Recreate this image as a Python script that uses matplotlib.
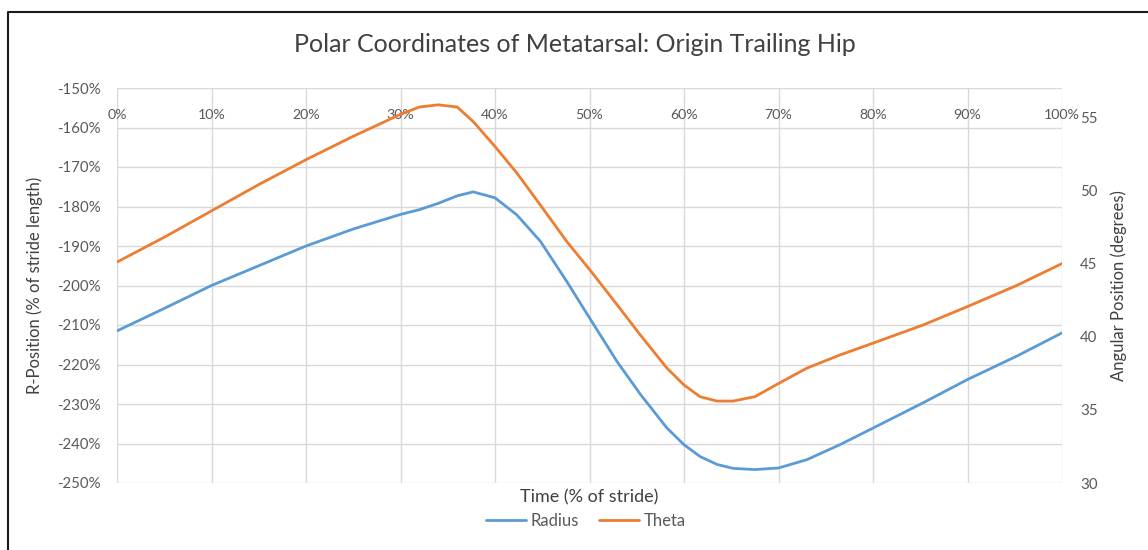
import matplotlib
matplotlib.use("Agg")
import matplotlib.pyplot as plt
from matplotlib.ticker import FuncFormatter
from matplotlib.lines import Line2D

plt.rcParams['font.family'] = ['Lato', 'DejaVu Sans']

# Stride time (% of stride)
time_pct = [0, 5, 10, 15, 20, 25, 30, 32, 34, 36, 37.7, 40, 42.3, 44.8, 47.6, 50,
            52.9, 55.4, 58.2, 60, 61.7, 63.5, 65.2, 67.5, 70, 73, 76.5, 80, 85.3,
            90, 95.2, 100]

# Radius of metatarsal from trailing hip (% of stride length)
radius = [-211.5, -205.8, -200.0, -195.0, -190.0, -185.7, -182.0, -180.8, -179.2,
          -177.3, -176.3, -177.8, -182.1, -188.8, -199.0, -208.2, -219.2, -227.6,
          -236.1, -240.3, -243.3, -245.3, -246.3, -246.6, -246.2, -244.1, -240.3,
          -236.1, -229.7, -223.8, -217.9, -212.0]

# Angular position of metatarsal (degrees)
theta = [45.1, 46.8, 48.6, 50.4, 52.1, 53.7, 55.2, 55.7, 55.85, 55.7, 54.7, 53.0,
         51.2, 49.0, 46.5, 44.6, 42.2, 40.1, 37.85, 36.7, 35.9, 35.6, 35.6, 35.9,
         36.8, 37.85, 38.75, 39.56, 40.8, 42.06, 43.5, 45.0]

x_ticks = [0, 10, 20, 30, 40, 50, 60, 70, 80, 90, 100]
r_ticks = [-150, -160, -170, -180, -190, -200, -210, -220, -230, -240, -250]
t_ticks = [30, 35, 40, 45, 50, 55]

BLUE = '#5B9BD5'
ORANGE = '#ED7D31'
GRID = '#d9d9d9'
TXT = '#595959'

W, H = 1148, 550
fig = plt.figure(figsize=(W / 100, H / 100), dpi=100)
ax = fig.add_axes([117 / W, 1 - 483 / H, (1062 - 117) / W, (483 - 88) / H])
ax2 = ax.twinx()

lr, = ax.plot(time_pct, radius, color=BLUE, lw=2.0, solid_capstyle='round', zorder=3)
lt, = ax2.plot(time_pct, theta, color=ORANGE, lw=2.0, solid_capstyle='round', zorder=3)

ax.set_xlim(0, 100)
ax.set_ylim(-250, -150)
ax2.set_ylim(30, 57)

ax.set_xticks(x_ticks)
ax.set_yticks(r_ticks)
ax2.set_yticks(t_ticks)
ax.xaxis.set_major_formatter(FuncFormatter(lambda v, p: f"{v:.0f}%"))
ax.yaxis.set_major_formatter(FuncFormatter(lambda v, p: f"{v:.0f}%"))

ax.grid(True, color=GRID, lw=1.0, zorder=0)
ax.set_axisbelow(True)
for a in (ax, ax2):
    for s in a.spines.values():
        s.set_visible(False)

ax.xaxis.set_ticks_position('top')
ax.tick_params(axis='x', which='both', length=0, labeltop=True, labelbottom=False,
               pad=-24, labelsize=10.2, labelcolor=TXT)
ax.tick_params(axis='y', length=0, pad=12, labelsize=10.8, labelcolor=TXT)
ax2.tick_params(axis='y', length=0, pad=13, labelsize=10.8, labelcolor=TXT)

ax.set_ylabel("R-Position (% of stride length)", fontsize=12, color='#404040')
ax2.set_ylabel("Angular Position (degrees)", fontsize=12, color='#404040')
ax.yaxis.set_label_coords((43 - 117) / 945, 0.5)
ax2.yaxis.set_label_coords((1110 - 117) / 945, 0.5)

fig.text(589.5 / W, 1 - 497 / H, "Time (% of stride)", ha='center', va='center',
         fontsize=13, color='#404040')
fig.text(575 / W, 1 - 45 / H, "Polar Coordinates of Metatarsal: Origin Trailing Hip",
         ha='center', va='center', fontsize=18, color='#404040')

leg = fig.legend([lr, lt], ["Radius", "Theta"], loc='center', ncol=2,
                 bbox_to_anchor=(586 / W, 1 - 521 / H), frameon=False,
                 fontsize=12, handlelength=2.4, handletextpad=0.3, columnspacing=1.2)
for t in leg.get_texts():
    t.set_color(TXT)

# chart frame (left and top edges)
fig.add_artist(Line2D([8 / W, 8 / W, 1.0], [0.0, 1 - 12 / H, 1 - 12 / H],
                      transform=fig.transFigure, color='#1a1a1a', lw=1.5))

fig.savefig("out.png", dpi=100)
